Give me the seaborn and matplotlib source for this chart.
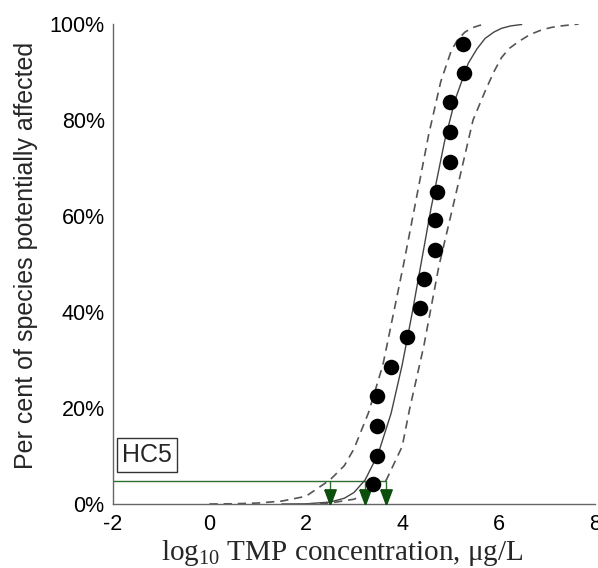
import matplotlib
matplotlib.use("Agg")
import matplotlib.pyplot as plt
import seaborn as sns
import pandas as pd

# ---- data ----
obs_x = [5.26, 5.28, 5.00, 5.00, 5.00, 4.72, 4.69, 4.69, 4.46, 4.36, 4.10, 3.77, 3.47, 3.47, 3.47, 3.39]
obs_y = [95.8, 89.7, 83.8, 77.5, 71.2, 65.1, 59.1, 52.9, 46.8, 40.8, 34.8, 28.5, 22.4, 16.3, 10.1, 4.2]

fit_x = [1.5, 2.0, 2.5, 2.8, 3.0, 3.23, 3.5, 3.77, 4.0, 4.2, 4.39, 4.6, 4.88, 5.1, 5.37,
         5.55, 5.72, 5.9, 6.06, 6.25, 6.48]
fit_y = [0.0, 0.03, 0.4, 1.2, 2.4, 5.0, 10.4, 18.9, 29.0, 39.4, 50.0, 61.7, 75.6, 84.3, 91.8,
         94.8, 97.0, 98.3, 99.1, 99.6, 99.9]

low_x = [0.0, 0.5, 1.0, 1.5, 2.0, 2.5, 2.8, 3.0, 3.3, 3.6, 4.03, 4.3, 4.55, 4.8, 5.02,
         5.15, 5.3, 5.45, 5.6, 5.75]
low_y = [0.0, 0.05, 0.2, 0.6, 1.6, 5.0, 8.0, 11.5, 19.0, 29.0, 50.0, 64.0, 77.0, 88.0, 94.5,
         96.7, 98.3, 99.2, 99.7, 100.0]

up_x = [2.0, 2.5, 3.0, 3.3, 3.67, 4.0, 4.15, 4.45, 4.76, 5.1, 5.47, 5.72, 5.9, 6.06, 6.22,
        6.41, 6.65, 6.9, 7.1, 7.3, 7.66]
up_y = [0.0, 0.2, 1.0, 2.3, 5.0, 12.0, 19.6, 33.0, 49.5, 64.0, 80.0, 86.0, 90.0, 93.0, 94.9,
        96.3, 97.8, 98.8, 99.3, 99.6, 100.0]

hc5_level = 4.8
hc5_x = [2.5, 3.23, 3.67]
x_ticks = [-2, 0, 2, 4, 6, 8]
y_ticks = [0, 20, 40, 60, 80, 100]
y_ticklabels = ["0%", "20%", "40%", "60%", "80%", "100%"]

sns.set_theme(style="white")
plt.rcParams["font.family"] = ["Liberation Sans", "DejaVu Sans"]
plt.rcParams["mathtext.fontset"] = "custom"
plt.rcParams["mathtext.rm"] = "Liberation Serif"

fig = plt.figure(figsize=(5.98, 5.68), dpi=100)
ax = fig.add_axes([113 / 598, 64 / 568, 482 / 598, 480 / 568])

green = "#2f6f2f"
dark_green = "#0c4f0c"

# HC5 guide lines
ax.plot([-2, max(hc5_x)], [hc5_level, hc5_level], color=green, lw=1.0, zorder=2)
for hx in hc5_x:
    ax.plot([hx, hx], [hc5_level, 1.5], color=green, lw=1.0, zorder=2)
tri = [(-0.75, 1.0), (0.75, 1.0), (0.0, -1.0), (-0.75, 1.0)]
ax.plot(hc5_x, [1.55] * len(hc5_x), linestyle="none", marker=tri, markersize=11,
        color=dark_green, markeredgecolor=dark_green, zorder=3)

# curves
df_fit = pd.DataFrame({"x": fit_x, "y": fit_y})
df_low = pd.DataFrame({"x": low_x, "y": low_y})
df_up = pd.DataFrame({"x": up_x, "y": up_y})
sns.lineplot(data=df_fit, x="x", y="y", ax=ax, color="#444444", lw=1.0, sort=False, estimator=None)
sns.lineplot(data=df_low, x="x", y="y", ax=ax, color="#555555", lw=1.2, sort=False, estimator=None)
sns.lineplot(data=df_up, x="x", y="y", ax=ax, color="#555555", lw=1.2, sort=False, estimator=None)
ax.lines[-1].set_dashes((5, 3.5))
ax.lines[-2].set_dashes((5, 3.5))

# observations
df_obs = pd.DataFrame({"x": obs_x, "y": obs_y})
sns.scatterplot(data=df_obs, x="x", y="y", ax=ax, color="black", s=125, edgecolor="black",
                linewidth=0, zorder=4)

ax.set_xlim(-2, 8)
ax.set_ylim(0, 100)
ax.set_xticks(x_ticks)
ax.set_xticklabels([str(t) for t in x_ticks])
ax.set_yticks(y_ticks)
ax.set_yticklabels(y_ticklabels)
ax.tick_params(direction="in", length=4, width=0.8, colors="#333333", labelcolor="black",
               labelsize=15.5, pad=6)
ax.tick_params(axis="x", pad=7)
for s in ["top", "right"]:
    ax.spines[s].set_visible(False)
for s in ["left", "bottom"]:
    ax.spines[s].set_color("#666666")
    ax.spines[s].set_linewidth(1.0)

ax.set_ylabel("Per cent of species potentially affected", fontsize=18)
ax.yaxis.set_label_coords(-0.156, 0.517)
ax.set_xlabel(r"log$_{10}$ TMP concentration, μg/L", fontsize=21,
              family=["Liberation Serif", "DejaVu Serif"])
ax.xaxis.set_label_coords(0.475, -0.07)

ax.text(-1.81, 10.2, "HC5", fontsize=18, ha="left", va="center",
        bbox=dict(boxstyle="square,pad=0.2", fc="white", ec="#333333", lw=1.0))

fig.savefig("out.png", dpi=100)
